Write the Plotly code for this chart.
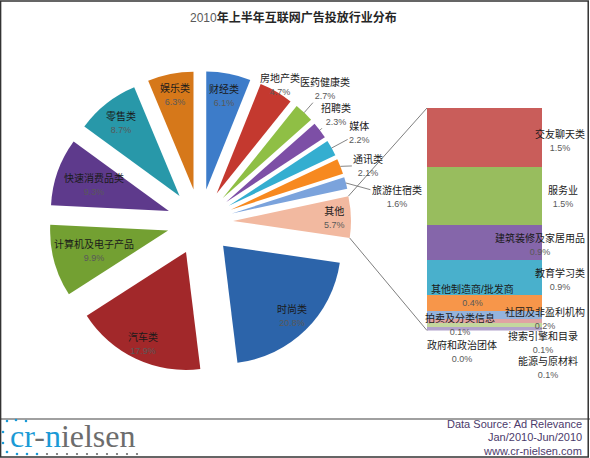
import math
import plotly.graph_objects as go

# 饼图数据（顺时针，从12点钟方向开始）
pie_labels = ['财经类', '房地产类', '医药健康类', '招聘类', '媒体', '通讯类', '旅游住宿类',
              '其他', '时尚类', '汽车类', '计算机及电子产品', '快速消费品类', '零售类', '娱乐类']
pie_values = [6.1, 4.7, 2.7, 2.3, 2.2, 2.1, 1.6, 5.7, 20.8, 17.9, 9.9, 9.3, 8.7, 6.3]
pie_colors = ['#3d7cc9', '#c4392f', '#8fbf45', '#7d4fa6', '#34aed0', '#f7891f', '#7ba3dc',
              '#f2b9a0', '#2c64aa', '#a2282a', '#73a032', '#5e3a8c', '#2898a9', '#d6781a']

# "其他" 的细分（自上而下）
other_labels = ['交友聊天类', '服务业', '建筑装修及家居用品', '教育学习类', '其他制造商/批发商',
                '社团及非盈利机构', '拍卖及分类信息', '搜索引擎和目录', '能源与原材料', '政府和政治团体']
other_values = [1.5, 1.5, 0.9, 0.9, 0.4, 0.2, 0.1, 0.1, 0.1, 0.0]
other_colors = ['#c95d5a', '#98bd5e', '#8566aa', '#49b0cc', '#f7964a',
                '#95b3dc', '#e0a3a2', '#c4d79e', '#b2a2cc', '#93cddd']

W, H = 590, 458
FONT = 'Liberation Sans, Noto Sans CJK SC, sans-serif'
PCT_STYLE = "font-size:9px;color:#595959"

# 饼图位置
cx, cy = 200, 222
pull = 0.28
half = 151
r = half / (1 + pull)
pie_dom_x = [(cx - half) / W, (cx + half) / W]
pie_dom_y = [1 - (cy + half) / H, 1 - (cy - half) / H]

# 条形图位置
bar_dom_x = [427 / W, 542 / W]
bar_dom_y = [1 - 330.5 / H, 1 - 108 / H]

total = sum(pie_values)
bounds = []
acc = 0
for v in pie_values:
    bounds.append((acc / total * 360, (acc + v) / total * 360))
    acc += v


def px_point(theta, dist, ox=cx, oy=cy):
    t = math.radians(theta)
    return ox + dist * math.sin(t), oy - dist * math.cos(t)


def to_paper(p):
    return p[0] / W, 1 - p[1] / H


def note(x, y, text, size=10, color='#1a1a1a', family=FONT, xanchor='center', **kw):
    return dict(x=x, y=y, xref=kw.pop('xref', 'paper'), yref=kw.pop('yref', 'paper'), text=text,
                showarrow=kw.pop('showarrow', False), xanchor=xanchor, yanchor='middle',
                font=dict(size=size, color=color, family=family), **kw)


def dot(x, y, color, rad=1.3):
    return dict(type='circle', xref='paper', yref='paper', x0=(x - rad) / W, x1=(x + rad) / W,
                y0=1 - (y + rad) / H, y1=1 - (y - rad) / H, fillcolor=color, line=dict(width=0))


fig = go.Figure()

fig.add_trace(go.Pie(
    labels=pie_labels, values=pie_values, sort=False, direction='clockwise', rotation=0,
    marker=dict(colors=pie_colors, line=dict(width=0)),
    pull=[pull] * len(pie_values), textinfo='none', hoverinfo='label+value',
    domain=dict(x=pie_dom_x, y=pie_dom_y), showlegend=False,
))

# 堆积条形（底部在前）
for name, v, c in reversed(list(zip(other_labels, other_values, other_colors))):
    fig.add_trace(go.Bar(x=[0], y=[v], name=name, marker=dict(color=c, line=dict(width=0)),
                         width=1, showlegend=False, xaxis='x', yaxis='y'))

annotations = []

# 饼图标签：内部距离（像素），外部用引线偏移
inside_dist = {'财经类': 129, '房地产类': 159, '其他': 135, '时尚类': 131, '汽车类': 134,
               '计算机及电子产品': 110, '快速消费品类': 112, '零售类': 127, '娱乐类': 130}
outside_off = {'医药健康类': (21, -24), '招聘类': (16, -16), '媒体': (28, -15),
               '通讯类': (28, -1), '旅游住宿类': (51, 14)}

for name, v, (a0, a1) in zip(pie_labels, pie_values, bounds):
    mid = (a0 + a1) / 2
    text = f"{name}<br><span style='{PCT_STYLE}'>{v:.1f}%</span>"
    if name in inside_dist:
        x, y = to_paper(px_point(mid, inside_dist[name]))
        annotations.append(note(x, y, text))
    else:
        x, y = to_paper(px_point(mid, half))
        ax, ay = outside_off[name]
        annotations.append(note(x, y, text, showarrow=True, ax=ax, ay=ay, arrowhead=0,
                                arrowwidth=0.8, arrowcolor='#666', standoff=0))

# 条形标签偏移（像素）
bar_shift = [(75, -3), (78, -1), (55, -2), (75, -2), (-12, 8),
             (60, -4), (-25, -4), (58, -18), (63, -39), (-23, -21)]
top = sum(other_values)
acc = top
for name, v, (xs, ys) in zip(other_labels, other_values, bar_shift):
    mid = acc - v / 2
    acc -= v
    annotations.append(note(0, mid, f"{name}<br><span style='{PCT_STYLE}'>{v:.1f}%</span>",
                            xref='x', yref='y', xshift=xs, yshift=ys))

# 标题
annotations.append(note(293.5 / W, 1 - 17 / H,
                        "<span style='color:#595959'>2010</span><b>年上半年互联网广告投放行业分布</b>",
                        size=12, color='#262626'))

# 页脚
for txt, yy in [('Data Source: Ad Relevance', 424), ('Jan/2010-Jun/2010', 437), ('www.cr-nielsen.com', 451)]:
    annotations.append(note(584 / W, 1 - yy / H, txt, size=11, color='#4b3a6b',
                            family='Liberation Sans', xanchor='right'))

annotations.append(note(8 / W, 1 - 436 / H,
                        "<span style='color:#1b9ad6'>cr</span><span style='color:#6d6d6d'>-</span>"
                        "<span style='color:#1b9ad6'>n</span><span style='color:#6d6d6d'>ielsen</span>",
                        size=32, family='Liberation Serif', xanchor='left'))

# 连接线：其他扇区外角 -> 条形左上/左下角
a0, a1 = bounds[pie_labels.index('其他')]
tip = px_point((a0 + a1) / 2, pull * r)
c_top = to_paper(px_point(a0, r, *tip))
c_bot = to_paper(px_point(a1, r, *tip))
shapes = [
    dict(type='line', xref='paper', yref='paper', x0=c_top[0], y0=c_top[1],
         x1=bar_dom_x[0], y1=bar_dom_y[1], line=dict(color='#7f7f7f', width=1)),
    dict(type='line', xref='paper', yref='paper', x0=c_bot[0], y0=c_bot[1],
         x1=bar_dom_x[0], y1=bar_dom_y[0], line=dict(color='#7f7f7f', width=1)),
    dict(type='line', xref='paper', yref='paper', x0=0, x1=1, y0=1 - 419 / H, y1=1 - 419 / H,
         line=dict(color='#808080', width=1.5)),
    dict(type='rect', xref='paper', yref='paper', x0=0.001, x1=0.997, y0=0.002, y1=0.998,
         line=dict(color='#333333', width=1.5)),
]

# 标志装饰点
for dx, dy in [(7, 421), (16, 420), (26, 421), (3, 432), (3, 443), (7, 452), (17, 454), (27, 454), (37, 454)]:
    shapes.append(dot(dx, dy, '#1b9ad6'))
for i in range(10):
    shapes.append(dot(47 + 10 * i, 454, '#6d6d6d', 1.1))

fig.update_layout(
    width=W, height=H, margin=dict(l=0, r=0, t=0, b=0),
    paper_bgcolor='white', plot_bgcolor='white',
    barmode='stack', bargap=0,
    xaxis=dict(domain=bar_dom_x, range=[-0.5, 0.5], visible=False, fixedrange=True),
    yaxis=dict(domain=bar_dom_y, range=[0, top], visible=False, fixedrange=True),
    annotations=annotations, shapes=shapes,
    font=dict(family=FONT),
)

# 去掉页面默认边距，使图表贴齐窗口
fig.write_html("out.html", config={'displayModeBar': False},
               post_script="document.body.style.margin='0';document.body.style.overflow='hidden';")
